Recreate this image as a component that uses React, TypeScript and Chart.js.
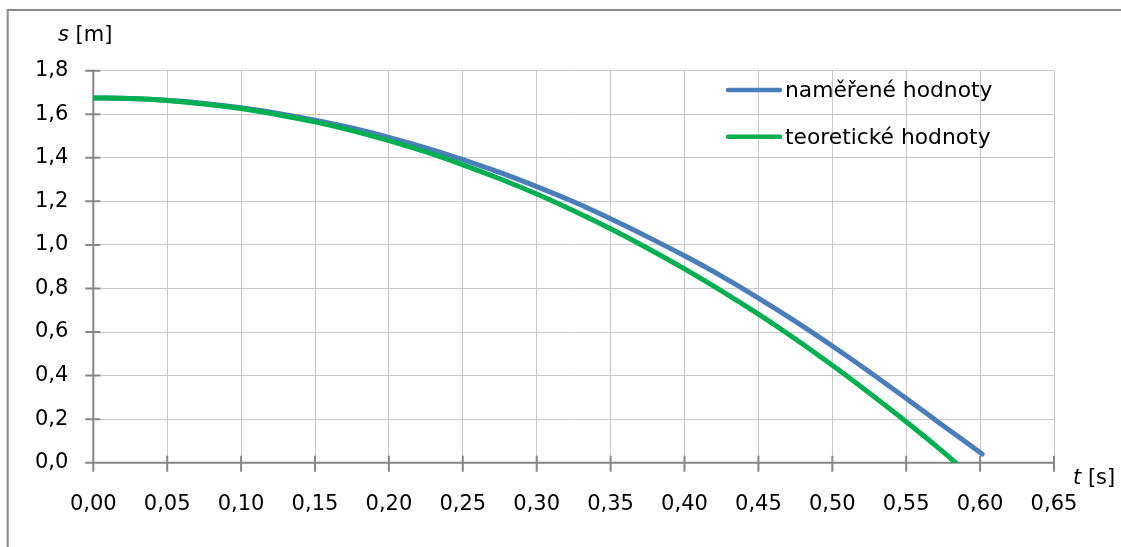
import React, { useEffect, useRef } from "react";
import { Chart, registerables } from "chart.js";

Chart.register(...registerables);

// time [s] and distance [m] of the measured series
const measuredT = [0, 0.025, 0.05, 0.075, 0.1, 0.125, 0.15, 0.175, 0.2, 0.225, 0.25, 0.275, 0.3, 0.325, 0.35, 0.375, 0.4, 0.425, 0.45, 0.475, 0.5, 0.525, 0.55, 0.575, 0.6014];
const measuredS = [1.675, 1.672, 1.664, 1.65, 1.63, 1.604, 1.573, 1.537, 1.494, 1.446, 1.392, 1.333, 1.268, 1.198, 1.12, 1.037, 0.95, 0.857, 0.756, 0.649, 0.536, 0.418, 0.295, 0.17, 0.04];

// time [s] and distance [m] of the theoretical series
const theoryT = [0, 0.025, 0.05, 0.075, 0.1, 0.125, 0.15, 0.175, 0.2, 0.225, 0.25, 0.275, 0.3, 0.325, 0.35, 0.375, 0.4, 0.425, 0.45, 0.475, 0.5, 0.525, 0.55, 0.575, 0.5835];
const theoryS = [1.675, 1.672, 1.663, 1.647, 1.626, 1.598, 1.565, 1.525, 1.479, 1.427, 1.368, 1.304, 1.234, 1.157, 1.074, 0.985, 0.89, 0.789, 0.682, 0.568, 0.447, 0.32, 0.188, 0.05, 0.0];

const xTicks = [0, 0.05, 0.1, 0.15, 0.2, 0.25, 0.3, 0.35, 0.4, 0.45, 0.5, 0.55, 0.6, 0.65];
const yTicks = [0, 0.2, 0.4, 0.6, 0.8, 1.0, 1.2, 1.4, 1.6, 1.8];

const seriesNames = ["naměřené hodnoty", "teoretické hodnoty"];
const seriesColors = ["#4a7ebb", "#00b050"];

const xTitleVar = "t";
const xTitleUnit = " [s]";
const yTitleVar = "s";
const yTitleUnit = " [m]";

const FONT = '"DejaVu Sans", sans-serif';
const FS = 21;
const LEGEND_FS = 21.8;
const AXIS_COLOR = "#868686";
const GRID_COLOR = "#c8c8c8";

function drawTitle(ctx: CanvasRenderingContext2D, v: string, unit: string, x: number, y: number) {
  ctx.font = `italic ${FS}px ${FONT}`;
  ctx.fillText(v, x, y);
  const w = ctx.measureText(v).width;
  ctx.font = `${FS}px ${FONT}`;
  ctx.fillText(unit, x + w, y);
}

const decor = {
  id: "decor",
  beforeDatasetsDraw(chart: any) {
    const { ctx } = chart;
    const xs = chart.scales.x;
    const ys = chart.scales.y;
    const x0 = xs.getPixelForValue(xTicks[0]);
    const x1 = xs.getPixelForValue(xTicks[xTicks.length - 1]);
    const y0 = ys.getPixelForValue(yTicks[0]);
    const y1 = ys.getPixelForValue(yTicks[yTicks.length - 1]);
    ctx.save();
    ctx.strokeStyle = AXIS_COLOR;
    ctx.lineWidth = 2;
    ctx.beginPath();
    ctx.moveTo(x0, y1);
    ctx.lineTo(x0, y0);
    ctx.moveTo(x0 - 8, y0);
    ctx.lineTo(x1, y0);
    for (const v of yTicks) {
      const p = ys.getPixelForValue(v);
      ctx.moveTo(x0 - 8, p);
      ctx.lineTo(x0 + 7, p);
    }
    for (const v of xTicks) {
      const p = xs.getPixelForValue(v);
      ctx.moveTo(p, y0 - 7);
      ctx.lineTo(p, y0 + 9);
    }
    ctx.stroke();
    ctx.restore();
  },
  afterDraw(chart: any) {
    const { ctx, width, height } = chart;
    ctx.save();
    // chart area border (left and top visible)
    ctx.strokeStyle = "#8a8a8a";
    ctx.lineWidth = 2;
    ctx.beginPath();
    ctx.moveTo(7.7, height);
    ctx.lineTo(7.7, 10);
    ctx.lineTo(width, 10);
    ctx.stroke();

    // axis titles
    ctx.fillStyle = "#000";
    ctx.textBaseline = "alphabetic";
    ctx.textAlign = "left";
    drawTitle(ctx, yTitleVar, yTitleUnit, 58, 40.5);
    drawTitle(ctx, xTitleVar, xTitleUnit, 1073, 483.5);

    // legend
    const rows = [90, 136.7];
    seriesNames.forEach((name, i) => {
      ctx.strokeStyle = seriesColors[i];
      ctx.lineWidth = 4.5;
      ctx.lineCap = "round";
      ctx.beginPath();
      ctx.moveTo(728, rows[i]);
      ctx.lineTo(780, rows[i]);
      ctx.stroke();
      ctx.font = `${LEGEND_FS}px ${FONT}`;
      ctx.fillStyle = "#000";
      ctx.fillText(name, 785, rows[i] + 7);
    });
    ctx.restore();
  },
};

export default function App() {
  const ref = useRef<HTMLCanvasElement | null>(null);

  useEffect(() => {
    document.body.style.margin = "0";
    document.body.style.overflow = "hidden";
    const canvas = ref.current;
    if (!canvas) return;
    const chart = new Chart(canvas, {
      type: "scatter",
      data: {
        datasets: [
          {
            label: seriesNames[0],
            data: measuredT.map((t, i) => ({ x: t, y: measuredS[i] })),
            borderColor: seriesColors[0],
            backgroundColor: seriesColors[0],
            borderWidth: 5,
            showLine: true,
            pointRadius: 0,
            tension: 0.3,
            borderCapStyle: "round",
            borderJoinStyle: "round",
            order: 2,
          },
          {
            label: seriesNames[1],
            data: theoryT.map((t, i) => ({ x: t, y: theoryS[i] })),
            borderColor: seriesColors[1],
            backgroundColor: seriesColors[1],
            borderWidth: 5,
            showLine: true,
            pointRadius: 0,
            tension: 0.3,
            borderCapStyle: "round",
            borderJoinStyle: "round",
            order: 1,
          },
        ],
      },
      options: {
        animation: false,
        responsive: false,
        maintainAspectRatio: false,
        layout: { padding: { left: 0, right: 67, top: 70.7, bottom: 0 } },
        plugins: {
          legend: { display: false },
          title: { display: false },
          tooltip: { enabled: false },
        },
        scales: {
          x: {
            type: "linear",
            min: xTicks[0],
            max: xTicks[xTicks.length - 1],
            afterBuildTicks: (scale: any) => {
              scale.ticks = xTicks.map((v) => ({ value: v }));
            },
            afterFit: (scale: any) => {
              scale.height = 84.3;
            },
            grid: { color: GRID_COLOR, lineWidth: 1, drawTicks: false },
            border: { display: false },
            ticks: {
              autoSkip: false,
              maxRotation: 0,
              padding: 29,
              color: "#000",
              font: { family: FONT, size: FS },
              callback: (v: any) => Number(v).toFixed(2).replace(".", ","),
            },
          },
          y: {
            type: "linear",
            min: yTicks[0],
            max: yTicks[yTicks.length - 1],
            afterBuildTicks: (scale: any) => {
              scale.ticks = yTicks.map((v) => ({ value: v }));
            },
            afterFit: (scale: any) => {
              scale.width = 93.3;
            },
            grid: { color: GRID_COLOR, lineWidth: 1, drawTicks: false },
            border: { display: false },
            ticks: {
              padding: 25,
              color: "#000",
              font: { family: FONT, size: FS },
              callback: (v: any) => Number(v).toFixed(1).replace(".", ","),
            },
          },
        },
      },
      plugins: [decor],
    });
    return () => chart.destroy();
  }, []);

  return (
    <div style={{ width: 1121, height: 547, position: "relative" }}>
      <canvas ref={ref} width={1121} height={547} style={{ width: 1121, height: 547, display: "block" }} />
    </div>
  );
}
